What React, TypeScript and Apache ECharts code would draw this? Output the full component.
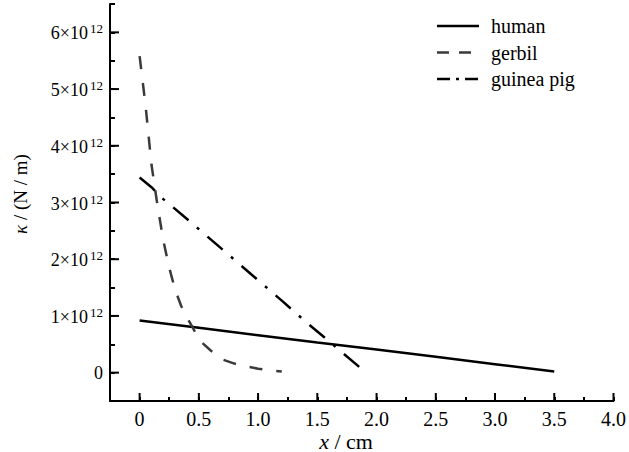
import React, { useEffect, useRef } from "react";
import * as echarts from "echarts";

// x positions (cm) and kappa values (in units of 1e12 N/m)
const humanX = [0, 0.5, 1, 1.5, 2, 2.5, 3, 3.5];
const humanY = [0.92, 0.79, 0.66, 0.53, 0.41, 0.28, 0.15, 0.02];

const gerbilX = [0, 0.05, 0.1, 0.15, 0.2, 0.25, 0.3, 0.35, 0.4, 0.45, 0.5, 0.6, 0.7, 0.8, 0.9, 1.0, 1.1, 1.2];
const gerbilY = [5.58, 4.71, 3.67, 2.96, 2.33, 1.85, 1.46, 1.18, 0.97, 0.79, 0.58, 0.39, 0.23, 0.16, 0.11, 0.07, 0.04, 0.02];

const guineaX = [0, 0.1, 0.2, 0.4, 0.6, 0.8, 1.0, 1.2, 1.4, 1.6, 1.86];
const guineaY = [3.44, 3.27, 3.06, 2.71, 2.35, 1.99, 1.63, 1.27, 0.9, 0.55, 0.09];

const seriesNames = ["human", "gerbil", "guinea pig"];

const X_MIN = -0.25;
const X_MAX = 4;
const X_STEP = 0.25;
const Y_MIN = -0.5;
const Y_MAX = 6.5;
const Y_STEP = 0.5;
const xMajorTicks = [0, 0.5, 1, 1.5, 2, 2.5, 3, 3.5, 4];
const xTickLabels = ["0", "0.5", "1.0", "1.5", "2.0", "2.5", "3.0", "3.5", "4.0"];
const yMajorTicks = [0, 1, 2, 3, 4, 5, 6];
const yExponent = "12";

const FONT = "Liberation Serif";
const LINE_STYLES: any[] = [
  { color: "#000", width: 2.5, dash: null },
  { color: "#3a3a3a", width: 2.5, dash: [13, 14] },
  { color: "#000", width: 2.5, dash: [20, 11, 3, 11] },
];
const LEGEND_DASH: any[] = [null, [12, 10], [13, 6, 3, 6]];

const pairs = (xs: number[], ys: number[]) => xs.map((x, i) => [x, ys[i]]);

function tickSeries(data: number[][], dx: number, dy: number) {
  return {
    type: "custom",
    coordinateSystem: "cartesian2d",
    clip: false,
    data,
    renderItem: (_p: any, api: any) => {
      const pt = api.coord([api.value(0), api.value(1)]);
      return {
        type: "line",
        shape: { x1: pt[0], y1: pt[1], x2: pt[0] + dx, y2: pt[1] + dy },
        style: { stroke: "#000", lineWidth: 2 },
      };
    },
  };
}

export default function App() {
  const ref = useRef<HTMLDivElement>(null);
  useEffect(() => {
    document.body.style.margin = "0";
    if (!ref.current) return;
    const chart = echarts.init(ref.current, undefined, { renderer: "svg" });
    const axisLineStyle = { color: "#000", width: 2 };
    const legendGraphics: any[] = [];
    seriesNames.forEach((name, i) => {
      const cy = 26 + i * 26.5;
      legendGraphics.push({
        type: "line",
        shape: { x1: 437, y1: cy, x2: 479, y2: cy },
        style: {
          stroke: LINE_STYLES[i].color,
          lineWidth: 2.5,
          lineDash: LEGEND_DASH[i] || undefined,
        },
      });
      legendGraphics.push({
        type: "text",
        x: 491,
        y: cy,
        style: { text: name, fontSize: 20, fontFamily: FONT, fill: "#000", align: "left", verticalAlign: "middle" },
      });
    });
    const option: any = {
      animation: false,
      grid: { left: 110, right: 14, top: 4, bottom: 51 },
      xAxis: {
        type: "value",
        min: X_MIN,
        max: X_MAX,
        interval: X_STEP,
        axisLine: { show: true, onZero: false, lineStyle: axisLineStyle },
        axisTick: { show: true, inside: true, length: 4, lineStyle: { color: "#000", width: 2 } },
        axisLabel: {
          margin: 8,
          fontSize: 20,
          fontFamily: FONT,
          color: "#000",
          formatter: (v: number) => {
            const i = xMajorTicks.findIndex((t) => Math.abs(t - v) < 1e-6);
            return i >= 0 ? xTickLabels[i] : "";
          },
        },
        splitLine: { show: false },
      },
      yAxis: {
        type: "value",
        min: Y_MIN,
        max: Y_MAX,
        interval: Y_STEP,
        axisLine: { show: true, onZero: false, lineStyle: axisLineStyle },
        axisTick: { show: true, inside: true, length: 5, lineStyle: { color: "#000", width: 2 } },
        axisLabel: {
          margin: 7,
          fontSize: 18,
          fontFamily: FONT,
          color: "#000",
          formatter: (v: number) => {
            if (Math.abs(v - Math.round(v)) > 1e-6) return "";
            const n = Math.round(v);
            return n === 0 ? "{z|0}" : `{b|${n}×10}{s|${yExponent}}`;
          },
          rich: {
            z: { fontSize: 18, fontFamily: FONT, color: "#000" },
            b: { fontSize: 18, fontFamily: FONT, color: "#000", lineHeight: 20, verticalAlign: "bottom" },
            s: { fontSize: 13, fontFamily: FONT, color: "#000", lineHeight: 12, verticalAlign: "top", padding: [0, 0, 0, 2] },
          },
        },
        splitLine: { show: false },
      },
      series: [
        {
          name: seriesNames[0],
          type: "line",
          data: pairs(humanX, humanY),
          showSymbol: false,
          symbol: "none",
          lineStyle: { color: LINE_STYLES[0].color, width: LINE_STYLES[0].width, type: "solid" },
        },
        {
          name: seriesNames[1],
          type: "line",
          data: pairs(gerbilX, gerbilY),
          showSymbol: false,
          symbol: "none",
          lineStyle: { color: LINE_STYLES[1].color, width: LINE_STYLES[1].width, type: LINE_STYLES[1].dash },
        },
        {
          name: seriesNames[2],
          type: "line",
          data: pairs(guineaX, guineaY),
          showSymbol: false,
          symbol: "none",
          lineStyle: { color: LINE_STYLES[2].color, width: LINE_STYLES[2].width, type: LINE_STYLES[2].dash },
        },
        tickSeries(yMajorTicks.map((v) => [X_MIN, v]), 9, 0),
        tickSeries(xMajorTicks.map((v) => [v, Y_MIN]), 0, -8),
      ],
      graphic: [
        ...legendGraphics,
        {
          type: "text",
          x: 20,
          y: 194,
          rotation: Math.PI / 2,
          style: {
            text: "{i|κ} / (N / m)",
            align: "center",
            verticalAlign: "middle",
            fontSize: 19,
            fontFamily: FONT,
            fill: "#000",
            rich: { i: { fontStyle: "italic", fontSize: 19, fontFamily: FONT } },
          },
        },
        {
          type: "text",
          x: 346,
          y: 441,
          style: {
            text: "{i|x} / cm",
            align: "center",
            verticalAlign: "middle",
            fontSize: 22,
            fontFamily: FONT,
            fill: "#000",
            rich: { i: { fontStyle: "italic", fontSize: 22, fontFamily: FONT } },
          },
        },
      ],
    };
    chart.setOption(option);
    return () => chart.dispose();
  }, []);
  return <div ref={ref} style={{ width: 629, height: 452 }} />;
}
